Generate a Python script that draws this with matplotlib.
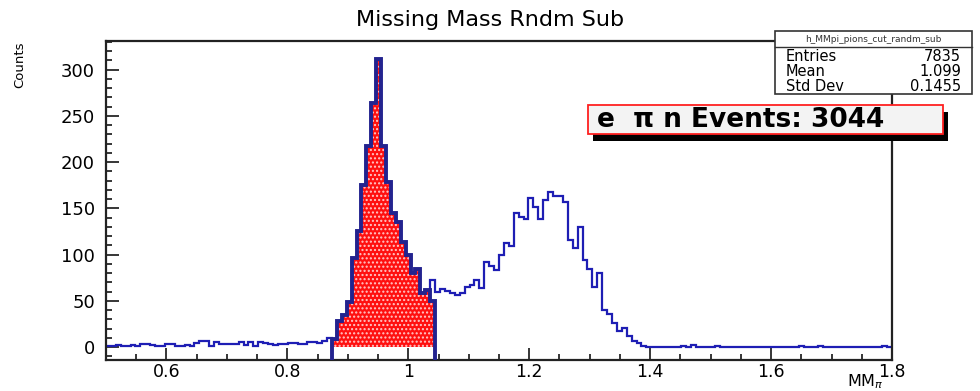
import numpy as np
import matplotlib
matplotlib.use('Agg')
import matplotlib.pyplot as plt
from matplotlib.patches import Rectangle
from matplotlib.ticker import MultipleLocator, FormatStrFormatter

plt.rcParams['font.family'] = ['DejaVu Sans']
plt.rcParams['hatch.linewidth'] = 1.0

# ---------------- data ----------------
x_min, x_max, n_bins = 0.5, 1.8, 160

counts = [
    # 0.500 - 0.874 (bins 0-45)
    1.5, 1, 2, 1.5, 1, 2, 1.5, 3.5, 3.5, 2,
    1.5, 1.5, 3.5, 3.5, 1.5, 1.5, 2, 1.5, 4, 7,
    6.5, 1.5, 5, 3.5, 3, 3.5, 3.5, 5, 2.5, 6,
    1.5, 6, 4, 3, 2.5, 3.5, 3.5, 4, 4.5, 3.5,
    3.5, 6, 5.5, 4, 7, 9.5,
    # peak (bins 46-66)
    9, 28, 35, 49, 96, 125, 175, 217, 264, 311,
    217, 179, 145, 135, 114, 100, 80, 84, 58, 62, 72,
    # second hump (bins 67-109)
    60, 63, 61, 58, 56, 59, 65, 67, 73, 64,
    92, 88, 83, 100, 112, 109, 145, 141, 139, 161,
    152, 139, 159, 168, 163, 163, 157, 116, 107, 130,
    94, 84, 65, 80, 40, 36, 26, 17, 21, 12,
    7, 4, 1,
    # tail (bins 110-159)
    0, 0, 0, 0, 0, 0, 0, 1.5, 0, 2,
    0, 0, 0, 0, 1.5, 0, 0, 0, 0, 0,
    0, 0, 0, 0, 0, 0, 0, 0, 0, 0,
    0, 1.5, 0, 0, 0, 1.5, 0, 0, 0, 0,
    0, 0, 0, 0, 0, 0, 0, 0, 1.5, 0,
]

cut_first_bin = 46
cut_counts = [9, 28, 35, 49, 96, 125, 175, 217, 264, 311,
              217, 179, 145, 135, 114, 100, 80, 84, 58, 62, 50]

y_lo, y_hi = -14, 331

title = "Missing Mass Rndm Sub"
y_title = "Counts"
x_title = r"MM$_{\pi}$"
stats_name = "h_MMpi_pions_cut_randm_sub"
stats_labels = ["Entries", "Mean", "Std Dev"]
stats_values = ["7835", "1.099", "0.1455"]
events_label = "e  \u03c0 n Events: 3044"

# ---------------- figure ----------------
W, H = 980, 391
fig = plt.figure(figsize=(W / 100, H / 100), dpi=100)
fig.patch.set_facecolor('white')

def fx(px):
    return px / W

def fy(py):
    return 1 - py / H

ax = fig.add_axes([fx(106), fy(360), fx(892) - fx(106), fy(41) - fy(360)])

edges = np.linspace(x_min, x_max, n_bins + 1)
ax.stairs(counts, edges, color='#1e1eb4', lw=1.6, zorder=2)

cut_edges = edges[cut_first_bin:cut_first_bin + len(cut_counts) + 1]
ax.stairs(cut_counts, cut_edges, baseline=0, fill=True, facecolor='#ff1010',
          edgecolor='#ffc8c8', hatch='....', lw=0, zorder=3)
ax.stairs(cut_counts, cut_edges, baseline=y_lo, color='#23238f', lw=2.8,
          zorder=4)

ax.set_xlim(x_min, x_max)
ax.set_ylim(y_lo, y_hi)

ax.xaxis.set_major_locator(MultipleLocator(0.2))
ax.xaxis.set_minor_locator(MultipleLocator(0.05))
ax.yaxis.set_major_locator(MultipleLocator(50))
ax.yaxis.set_minor_locator(MultipleLocator(10))
ax.xaxis.set_major_formatter(FormatStrFormatter('%g'))
ax.yaxis.set_major_formatter(FormatStrFormatter('%g'))
ax.tick_params(which='both', direction='in', top=False, right=False,
               colors='black', width=1.1)
ax.tick_params(which='major', length=9, labelsize=13)
ax.tick_params(which='minor', length=4.5)
ax.tick_params(axis='y', which='major', pad=8)
ax.tick_params(axis='x', which='major', pad=2, labelsize=12.5)
for s in ax.spines.values():
    s.set_linewidth(1.6)
    s.set_color('#222222')

# titles
fig.text(0.5, fy(20), title, ha='center', va='center', fontsize=16)
fig.text(fx(20), fy(41), y_title, rotation=90, ha='center', va='top',
         fontsize=9.5)
fig.text(fx(884), fy(386.5), x_title, ha='right', va='baseline',
         fontsize=11.5)

# stats box
sb_l, sb_r, sb_t, sb_m, sb_b = 775, 972, 31, 47, 94
fig.add_artist(Rectangle((fx(sb_l), fy(sb_b)), fx(sb_r) - fx(sb_l),
                         fy(sb_t) - fy(sb_b), transform=fig.transFigure,
                         facecolor='white', edgecolor='#333333', lw=1.2,
                         zorder=5))
fig.add_artist(plt.Line2D([fx(sb_l), fx(sb_r)], [fy(sb_m), fy(sb_m)],
                          transform=fig.transFigure, color='#333333',
                          lw=1.0, zorder=6))
fig.text(fx((sb_l + sb_r) / 2), fy(39.5), stats_name, ha='center',
         va='center', fontsize=6.5, color='#333333', zorder=6)
row_y = [56.5, 71.5, 86.5]
for lab, val, yy in zip(stats_labels, stats_values, row_y):
    fig.text(fx(786), fy(yy), lab, ha='left', va='center', fontsize=10.5,
             zorder=6)
    fig.text(fx(961), fy(yy), val, ha='right', va='center', fontsize=10.5,
             zorder=6)

# events box with shadow
eb_l, eb_r, eb_t, eb_b = 588, 943, 105, 134
fig.add_artist(Rectangle((fx(eb_l + 5), fy(eb_b + 7)), fx(eb_r) - fx(eb_l),
                         fy(eb_t) - fy(eb_b), transform=fig.transFigure,
                         facecolor='black', edgecolor='none', zorder=5))
fig.add_artist(Rectangle((fx(eb_l), fy(eb_b)), fx(eb_r) - fx(eb_l),
                         fy(eb_t) - fy(eb_b), transform=fig.transFigure,
                         facecolor='#f3f3f3', edgecolor='#ff2020', lw=1.3,
                         zorder=6))
fig.text(fx(597), fy(120), events_label, ha='left', va='center',
         fontsize=19, fontweight='bold', zorder=7)

fig.savefig('out.png', dpi=100)
